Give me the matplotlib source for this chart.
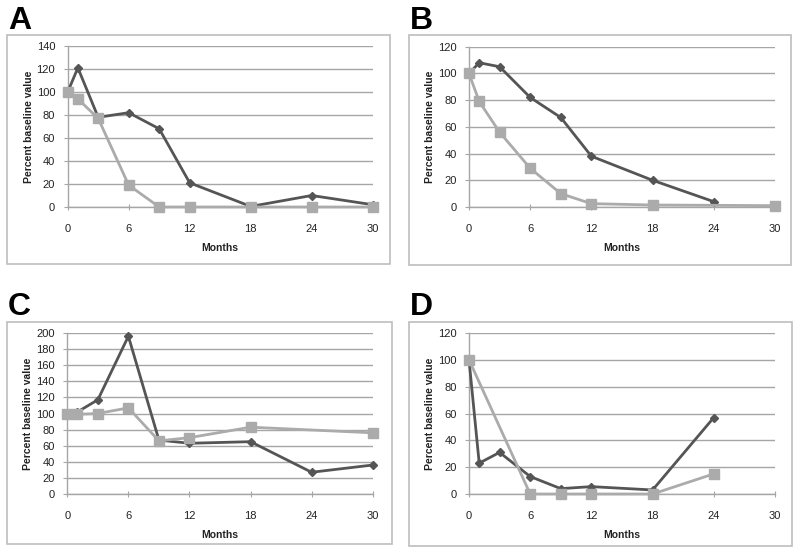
import matplotlib
matplotlib.use("Agg")
import matplotlib.pyplot as plt
from matplotlib.patches import Rectangle

plt.rcParams['font.family'] = ['Liberation Sans', 'DejaVu Sans']

# Panel A
a_dark_x = [0, 1, 3, 6, 9, 12, 18, 24, 30]
a_dark_y = [100, 121, 78, 82, 68, 21, 0.5, 10, 2]
a_light_x = [0, 1, 3, 6, 9, 12, 18, 24, 30]
a_light_y = [100, 94, 77, 19, 0, 0, 0, 0, 0]
# Panel B
b_dark_x = [0, 1, 3, 6, 9, 12, 18, 24]
b_dark_y = [100, 108, 105, 82, 67, 38, 20, 4]
b_light_x = [0, 1, 3, 6, 9, 12, 18, 30]
b_light_y = [100, 79, 56, 29, 10, 2.5, 1.5, 1]
# Panel C
c_dark_x = [0, 1, 3, 6, 9, 12, 18, 24, 30]
c_dark_y = [100, 102, 117, 196, 67, 63, 65, 27, 36]
c_light_x = [0, 1, 3, 6, 9, 12, 18, 30]
c_light_y = [100, 99, 100, 107, 66, 70, 83, 76]
# Panel D
d_dark_x = [0, 1, 3, 6, 9, 12, 18, 24]
d_dark_y = [100, 23, 31, 13, 4, 5.5, 3, 57]
d_light_x = [0, 6, 9, 12, 18, 24]
d_light_y = [100, 0, 0, 0, 0, 15]

panel_letters = ["A", "B", "C", "D"]
x_ticks = [0, 6, 12, 18, 24, 30]
y_max = [140, 120, 200, 120]
x_label = "Months"
y_label = "Percent baseline value"

W, H = 800, 559
fig = plt.figure(figsize=(8.0, 5.59), dpi=100)

def fx(px):
    return px / W

def fy(py):
    return 1 - py / H

# axes extents in pixels: (x0, x30, y0, ytop)
ax_px = [(67.7, 372.7, 207, 46), (469, 775, 207, 46.7),
         (67.3, 372.7, 494, 333), (469, 775, 494, 333)]
frames = [(7, 390, 35, 264), (409, 791, 35, 265), (7, 392, 322, 544), (409, 792, 322, 546)]
letters_pos = [(8, 29), (410, 29), (8, 315), (410, 315)]

data = [(a_dark_x, a_dark_y, a_light_x, a_light_y),
        (b_dark_x, b_dark_y, b_light_x, b_light_y),
        (c_dark_x, c_dark_y, c_light_x, c_light_y),
        (d_dark_x, d_dark_y, d_light_x, d_light_y)]

dark = '#555555'
light = '#ababab'
grid = '#a6a6a6'

for i in range(4):
    fl, fr, ft, fb = frames[i]
    fig.patches.append(Rectangle((fx(fl), fy(fb)), fx(fr) - fx(fl), fy(ft) - fy(fb),
                                 transform=fig.transFigure, fill=False,
                                 edgecolor='#bdbdbd', linewidth=1.2, zorder=0))
    lx, ly = letters_pos[i]
    fig.text(fx(lx), fy(ly), panel_letters[i], fontsize=23, fontweight='bold',
             ha='left', va='baseline', color='black')

    x0, x30, y0, yt = ax_px[i]
    ax = fig.add_axes([fx(x0), fy(y0), fx(x30) - fx(x0), fy(yt) - fy(y0)])
    ax.set_xlim(0, 30)
    ax.set_ylim(0, y_max[i])
    ax.set_xticks(x_ticks)
    ax.set_yticks(range(0, y_max[i] + 1, 20))
    ax.yaxis.grid(True, color=grid, linewidth=1.0)
    ax.set_axisbelow(True)
    for s in ['top', 'right']:
        ax.spines[s].set_visible(False)
    for s in ['left', 'bottom']:
        ax.spines[s].set_color(grid)
        ax.spines[s].set_linewidth(1.0)
    ax.tick_params(axis='y', direction='out', length=3, color=grid, pad=6,
                   labelsize=8, labelcolor='#222222')
    ax.tick_params(axis='x', direction='inout', length=5, color=grid, pad=10,
                   labelsize=8, labelcolor='#222222')
    dx, dy, lx_, ly_ = data[i]
    ax.plot(dx, dy, color=dark, linewidth=2.0, marker='D', markersize=4.5,
            markerfacecolor=dark, markeredgecolor=dark, zorder=3, clip_on=False)
    ax.plot(lx_, ly_, color=light, linewidth=2.0, marker='s', markersize=7.5,
            markerfacecolor=light, markeredgecolor=light, zorder=4, clip_on=False)
    ax.set_xlabel(x_label, fontsize=7.5, fontweight='bold', labelpad=6, color='#222222')
    ax.set_ylabel(y_label, fontsize=7.5, fontweight='bold', labelpad=2, color='#222222')

fig.savefig("out.png", dpi=100)
